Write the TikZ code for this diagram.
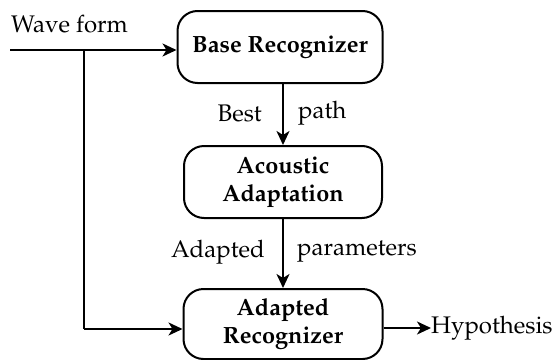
\documentclass[tikz,border=0pt]{standalone}
\usepackage[T1]{fontenc}
\usepackage{mathpazo}
\usetikzlibrary{arrows.meta}
\begin{document}
\begin{tikzpicture}[x=1pt,y=-1pt,
  blk/.style={draw,line width=2pt,rounded corners=20pt,align=center,
    font=\fontsize{23.5}{28}\selectfont\bfseries,inner sep=0pt},
  lbl/.style={font=\fontsize{24}{28}\selectfont,inner sep=0pt},
  conn/.style={line width=2pt,-{Stealth[length=14pt,width=13pt,inset=4pt]}},
  plain/.style={line width=2pt}]
\useasboundingbox (0,0) rectangle (554,359);
\node[blk,minimum width=205pt,minimum height=72pt] (base) at (280,47) {Base Recognizer};
\node[blk,minimum width=198pt,minimum height=72pt] (acou) at (283,182) {Acoustic\\Adaptation};
\node[blk,minimum width=199pt,minimum height=70pt] (adap) at (283,324) {Adapted\\Recognizer};
\node[lbl,anchor=base west] (wave) at (11,32) {Wave form};
\coordinate (start) at (10,50);
\coordinate (junc) at (84,50);
\coordinate (corner) at (84,329);
\node[lbl,anchor=west] (hyp) at (431,328) {Hypothesis};
\draw[conn] (start) -- (start -| base.west);
\draw[plain] (junc) -- (corner);
\draw[conn] (corner) -- (corner -| adap.west);
\draw[conn] (base.south -| 283,0) -- (acou.north);
\draw[conn] (acou.south) -- (adap.north);
\draw[conn] (adap.east |- hyp.west) -- (hyp.west);
\node[lbl,anchor=east] (best) at (262,113) {Best};
\node[lbl,anchor=west] (path) at (298,113) {path};
\node[lbl,anchor=east] (adl) at (265,252) {Adapted};
\node[lbl,anchor=west] (par) at (297,252) {parameters};
\end{tikzpicture}
\end{document}
